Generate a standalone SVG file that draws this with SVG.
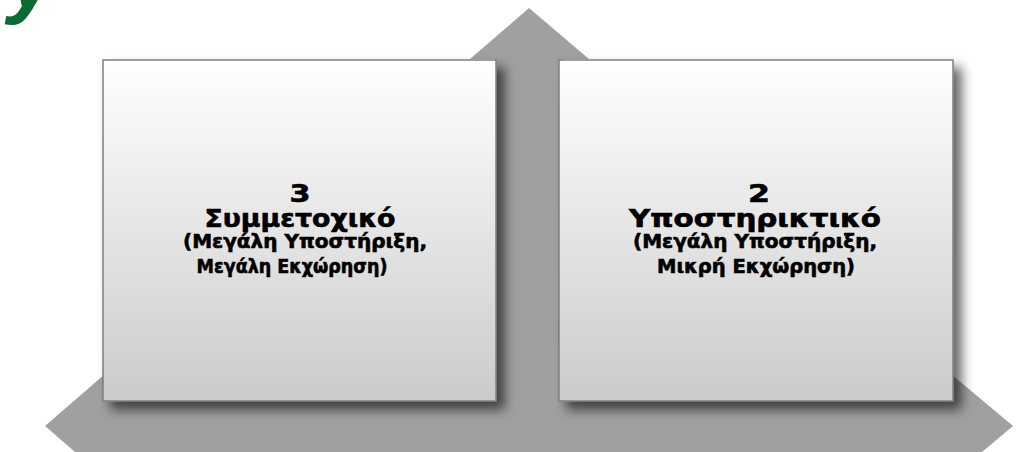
<svg xmlns="http://www.w3.org/2000/svg" width="1024" height="452" viewBox="0 0 1024 452">
<defs>
<linearGradient id="boxGrad" x1="0" y1="0" x2="0" y2="1">
<stop offset="0" stop-color="#ffffff"/>
<stop offset="1" stop-color="#cbcbcb"/>
</linearGradient>
<filter id="shadow" x="-10%" y="-10%" width="130%" height="130%">
<feDropShadow dx="8" dy="8" stdDeviation="6" flood-color="#000000" flood-opacity="0.6"/>
</filter>
<style>
.box{fill:url(#boxGrad);stroke:#7f7f7f;stroke-width:1.5;filter:url(#shadow);}
.arrow{fill:#a0a0a0;}
.t{font-family:"DejaVu Sans","Verdana","Noto Sans",sans-serif;font-weight:bold;fill:#000000;stroke:#000000;stroke-width:0.6;text-anchor:middle;}
.big{font-size:24px;}
.small{font-size:19px;}
.title{font-family:"Liberation Sans","Arial",sans-serif;font-weight:bold;font-style:italic;font-size:86px;fill:#0b6b32;}
</style>
</defs>
<rect width="1024" height="452" fill="#ffffff"/>
<text class="title" x="56" y="7" text-anchor="end">cy</text>
<g id="arrows">
<polygon class="arrow" points="529,8 589,59 564,59 564,394 951,394 951,374 1013,426 951,478 105,478 45,426 105,374 105,394 494,394 494,59 470,59"/>
</g>
<g id="connectors"></g>
<g id="node-3">
<rect class="box" x="103" y="60" width="393" height="341"/>
<text class="t big" x="300" y="202" textLength="21" lengthAdjust="spacingAndGlyphs">3</text>
<text class="t big" x="300" y="227" textLength="191" lengthAdjust="spacingAndGlyphs">Συμμετοχικό</text>
<text class="t small" x="305" y="248" textLength="244" lengthAdjust="spacingAndGlyphs">(Μεγάλη Υποστήριξη,</text>
<text class="t small" x="292" y="273" textLength="191" lengthAdjust="spacingAndGlyphs">Μεγάλη Εκχώρηση)</text>
</g>
<g id="node-2">
<rect class="box" x="559" y="60" width="394" height="341"/>
<text class="t big" x="759" y="202" textLength="22" lengthAdjust="spacingAndGlyphs">2</text>
<text class="t big" x="755" y="227" textLength="252" lengthAdjust="spacingAndGlyphs">Υποστηρικτικό</text>
<text class="t small" x="755" y="248" textLength="244" lengthAdjust="spacingAndGlyphs">(Μεγάλη Υποστήριξη,</text>
<text class="t small" x="756" y="273" textLength="198" lengthAdjust="spacingAndGlyphs">Μικρή Εκχώρηση)</text>
</g>
</svg>
